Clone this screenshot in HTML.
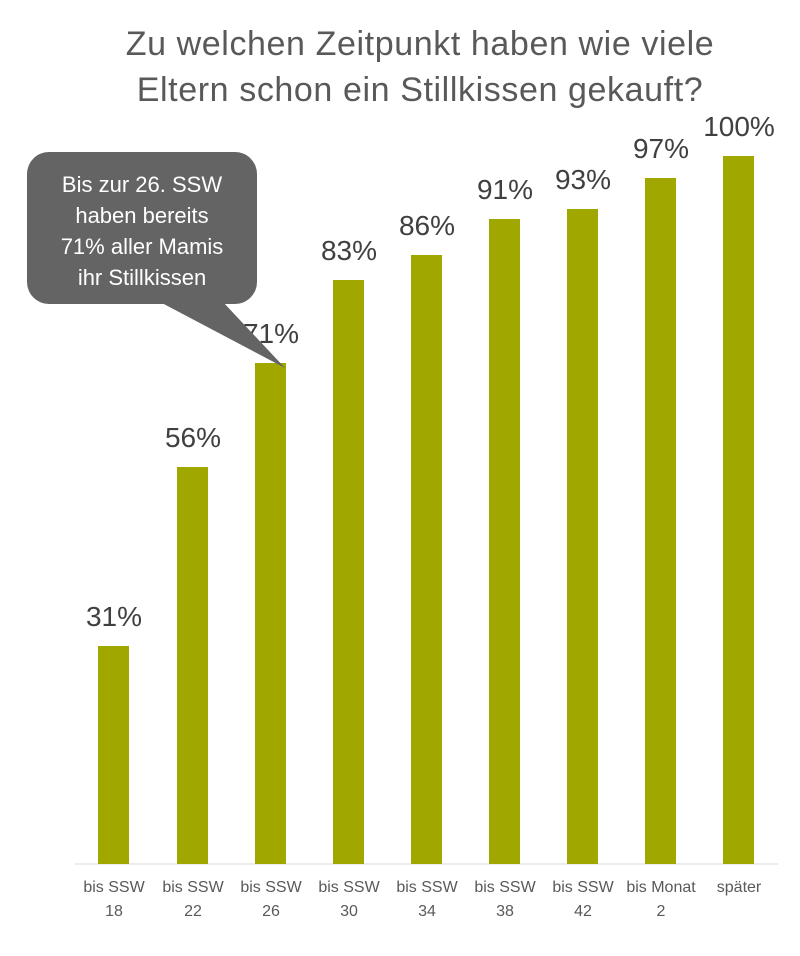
<!DOCTYPE html>
<html><head><meta charset="utf-8"><style>body{margin:0;background:#fff}</style></head>
<body>
<svg width="800" height="951" xmlns="http://www.w3.org/2000/svg" font-family="Liberation Sans, sans-serif">
<rect width="800" height="951" fill="#fff"/>
<text x="420" y="55" text-anchor="middle" font-size="34" letter-spacing="0.6" fill="#595959">Zu welchen Zeitpunkt haben wie viele</text>
<text x="420" y="101" text-anchor="middle" font-size="34" letter-spacing="0.6" fill="#595959">Eltern schon ein Stillkissen gekauft?</text>
<line x1="75" y1="864" x2="778" y2="864" stroke="#d9d9d9" stroke-width="1"/>
<g fill="#a0a800">
<rect x="98" y="646" width="31" height="218"/>
<rect x="177" y="467" width="31" height="397"/>
<rect x="255" y="363" width="31" height="501"/>
<rect x="333" y="280" width="31" height="584"/>
<rect x="411" y="255" width="31" height="609"/>
<rect x="489" y="219" width="31" height="645"/>
<rect x="567" y="209" width="31" height="655"/>
<rect x="645" y="178" width="31" height="686"/>
<rect x="723" y="156" width="31" height="708"/>
</g>
<g font-size="28" fill="#404040" text-anchor="middle">
<text x="114" y="626">31%</text>
<text x="193" y="447">56%</text>
<text x="271" y="343">71%</text>
<text x="349" y="260">83%</text>
<text x="427" y="235">86%</text>
<text x="505" y="199">91%</text>
<text x="583" y="189">93%</text>
<text x="661" y="158">97%</text>
<text x="739" y="136">100%</text>
</g>
<g font-size="16" fill="#595959" text-anchor="middle">
<text x="114" y="892">bis SSW</text><text x="114" y="916">18</text>
<text x="193" y="892">bis SSW</text><text x="193" y="916">22</text>
<text x="271" y="892">bis SSW</text><text x="271" y="916">26</text>
<text x="349" y="892">bis SSW</text><text x="349" y="916">30</text>
<text x="427" y="892">bis SSW</text><text x="427" y="916">34</text>
<text x="505" y="892">bis SSW</text><text x="505" y="916">38</text>
<text x="583" y="892">bis SSW</text><text x="583" y="916">42</text>
<text x="661" y="892">bis Monat</text><text x="661" y="916">2</text>
<text x="739" y="892">später</text>
</g>
<rect x="27" y="152" width="230" height="152" rx="22" fill="#646464"/>
<polygon points="160,302 223,302 285,368" fill="#646464"/>
<g font-size="22" fill="#fff" text-anchor="middle">
<text x="142" y="192">Bis zur 26. SSW</text>
<text x="142" y="223">haben bereits</text>
<text x="142" y="254">71% aller Mamis</text>
<text x="142" y="285">ihr Stillkissen</text>
</g>
</svg>
</body></html>
